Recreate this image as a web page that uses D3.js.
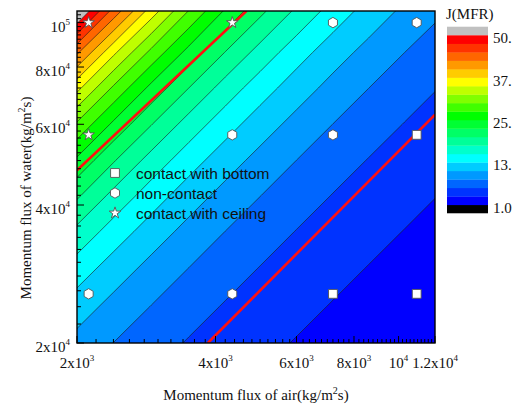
<!DOCTYPE html>
<html><head><meta charset="utf-8">
<script src="https://cdn.jsdelivr.net/npm/d3@7"></script>
<style>body{margin:0;background:#fff}</style>
</head><body>
<svg id="c" width="522" height="407"></svg>
<script>
// ---- data ----
const xNodes = [2000, 2400, 2900, 3500, 4200, 5000, 6000, 7200, 8600, 10300, 12000];
const yNodes = [20000, 24000, 29000, 35000, 42000, 50000, 60000, 72000, 86000, 106000];
// J(MFR) field on the node grid, rows = yNodes (bottom to top), columns = xNodes
const jGrid = [
  [10.0, 8.33, 6.90, 5.71, 4.76, 4.00, 3.33, 2.78, 2.33, 1.94, 1.67],
  [12.0, 10.0, 8.28, 6.86, 5.71, 4.80, 4.00, 3.33, 2.79, 2.33, 2.00],
  [14.5, 12.1, 10.0, 8.29, 6.90, 5.80, 4.83, 4.03, 3.37, 2.82, 2.42],
  [17.5, 14.6, 12.1, 10.0, 8.33, 7.00, 5.83, 4.86, 4.07, 3.40, 2.92],
  [21.0, 17.5, 14.5, 12.0, 10.0, 8.40, 7.00, 5.83, 4.88, 4.08, 3.50],
  [25.0, 20.8, 17.2, 14.3, 11.9, 10.0, 8.33, 6.94, 5.81, 4.85, 4.17],
  [30.0, 25.0, 20.7, 17.1, 14.3, 12.0, 10.0, 8.33, 6.98, 5.83, 5.00],
  [36.0, 30.0, 24.8, 20.6, 17.1, 14.4, 12.0, 10.0, 8.37, 6.99, 6.00],
  [43.0, 35.8, 29.7, 24.6, 20.5, 17.2, 14.3, 11.9, 10.0, 8.35, 7.17],
  [53.0, 44.2, 36.6, 30.3, 25.2, 21.2, 17.7, 14.7, 12.3, 10.3, 8.83]
];
const levels = [1.0, 3.45, 5.9, 8.35, 10.8, 13.25, 15.7, 18.15, 20.6, 23.05, 25.5,
                27.95, 30.4, 32.85, 35.3, 37.75, 40.2, 42.65, 45.1, 47.55, 50.0];
const bandColors = ["#0000ff", "#0033ff", "#0066ff", "#0099ff", "#00ccff",
                    "#00ffff", "#00ffcc", "#00ff99", "#00ff66", "#00ff33",
                    "#00ff00", "#40ff00", "#80ff00", "#bfff00", "#ffff00",
                    "#ffcc00", "#ff9900", "#ff6600", "#ff3300", "#ff0000"];
const belowColor = "#000000";
const aboveColor = "#c0c0c0";
const colorbarTicks = [50, 37.75, 25.5, 13.25, 1.0];
const colorbarTickLabels = ["50.", "37.", "25.", "13.", "1.0"];

const pointX = [2120, 4350, 7200, 10950];
const pointY = [25600, 56900, 100000];
const pointType = [            // rows follow pointY
  ["hex", "hex", "square", "square"],
  ["star", "hex", "hex", "square"],
  ["star", "star", "hex", "hex"]
];
const legendTypes = ["square", "hex", "star"];
const legendLabels = ["contact with bottom", "non-contact", "contact with ceiling"];

const upperBoundary = [[2000, 47600], [4670, 106000]];
const lowerBoundary = [[3850, 20000], [12000, 63000]];

const xMajor = [2000, 4000, 6000, 8000, 10000, 12000];
const xMajorLabels = [["2x10", "3"], ["4x10", "3"], ["6x10", "3"], ["8x10", "3"], ["10", "4"], ["1.2x10", "4"]];
const yMajor = [20000, 40000, 60000, 80000, 100000];
const yMajorLabels = [["2x10", "4"], ["4x10", "4"], ["6x10", "4"], ["8x10", "4"], ["10", "5"]];
const xMinorStep = 200, yMinorStep = 2000;

// ---- layout ----
const L = 77, R = 435, T = 11, B = 343;
const svg = d3.select("#c");
const x = d3.scaleLog().domain([2000, 12000]).range([L, R]);
const y = d3.scaleLog().domain([20000, 106000]).range([B, T]);
const serif = "'Liberation Serif','Times New Roman',serif";
const sans = "'Liberation Sans',Arial,sans-serif";

svg.append("defs").append("clipPath").attr("id", "clip")
  .append("rect").attr("x", L).attr("y", T).attr("width", R - L).attr("height", B - T);

const nx = xNodes.length, ny = yNodes.length;
const values = [];
jGrid.forEach(r => r.forEach(v => values.push(v)));
function idxToPx(f, nodes, sc) {
  const n = nodes.length;
  let i = Math.floor(f);
  if (i < 0) i = 0;
  if (i > n - 2) i = n - 2;
  const a = sc(nodes[i]), b = sc(nodes[i + 1]);
  return a + (b - a) * (f - i);
}
const proj = d3.geoTransform({
  point: function (gx, gy) {
    this.stream.point(idxToPx(gx - 0.5, xNodes, x), idxToPx(gy - 0.5, yNodes, y));
  }
});
const path = d3.geoPath(proj);
const contours = d3.contours().size([nx, ny]).thresholds(levels)(values);

const plot = svg.append("g").attr("clip-path", "url(#clip)");
plot.append("rect").attr("x", L).attr("y", T).attr("width", R - L).attr("height", B - T).attr("fill", belowColor);
plot.selectAll("path.fill").data(contours).join("path")
  .attr("class", "fill")
  .attr("d", path)
  .attr("fill", (d, i) => i < bandColors.length ? bandColors[i] : aboveColor);
plot.selectAll("path.line").data(contours).join("path")
  .attr("class", "line")
  .attr("d", path)
  .attr("fill", "none").attr("stroke", "#1a1a1a").attr("stroke-width", 0.6);

const line = d3.line().x(d => x(d[0])).y(d => y(d[1]));
[upperBoundary, lowerBoundary].forEach(seg => {
  plot.append("path").attr("d", line(seg)).attr("fill", "none")
    .attr("stroke", "#ff1010").attr("stroke-width", 2.6);
});

// markers
function markerPath(type) {
  if (type === "square") return d3.symbol().type(d3.symbolSquare).size(78)();
  if (type === "star") return d3.symbol().type(d3.symbolStar).size(42)();
  const r = 5.2, pts = [];
  for (let k = 0; k < 6; k++) {
    const a = Math.PI / 2 + k * Math.PI / 3;
    pts.push([r * Math.cos(a), r * Math.sin(a)]);
  }
  return "M" + pts.map(p => p.join(",")).join("L") + "Z";
}
const pts = [];
pointY.forEach((yv, j) => pointX.forEach((xv, i) => pts.push({ x: xv, y: yv, t: pointType[j][i] })));
svg.append("g").selectAll("path").data(pts).join("path")
  .attr("d", d => markerPath(d.t))
  .attr("transform", d => `translate(${x(d.x)},${y(d.y)})`)
  .attr("fill", "#fff").attr("stroke", "#555").attr("stroke-width", 0.9);

// legend
const lg = svg.append("g");
legendTypes.forEach((t, i) => {
  const cy = 173 + i * 20;
  lg.append("path").attr("d", markerPath(t)).attr("transform", `translate(115,${cy})`)
    .attr("fill", "#fff").attr("stroke", "#555").attr("stroke-width", 0.9);
  lg.append("text").attr("x", 136).attr("y", cy + 5.5).attr("font-family", sans)
    .attr("font-size", 15.5).attr("fill", "#111").text(legendLabels[i]);
});

// frame
svg.append("rect").attr("x", L).attr("y", T).attr("width", R - L).attr("height", B - T)
  .attr("fill", "none").attr("stroke", "#000").attr("stroke-width", 1.4);

// ticks
const ax = svg.append("g").attr("stroke", "#000").attr("stroke-width", 1);
d3.range(2000, 12000 + 1, xMinorStep).forEach(v => {
  const major = xMajor.includes(v);
  ax.append("line").attr("x1", x(v)).attr("x2", x(v)).attr("y1", B).attr("y2", B - (major ? 7 : 4));
});
d3.range(20000, 106000, yMinorStep).forEach(v => {
  const major = yMajor.includes(v);
  ax.append("line").attr("y1", y(v)).attr("y2", y(v)).attr("x1", L).attr("x2", L + (major ? 7 : 4));
});

function supText(sel, parts) {
  sel.append("tspan").text(parts[0]);
  sel.append("tspan").attr("dy", -7).attr("font-size", 9).text(parts[1]);
}
xMajor.forEach((v, i) => {
  const t = svg.append("text").attr("x", x(v)).attr("y", 368).attr("text-anchor", "middle")
    .attr("font-family", serif).attr("font-size", 15).attr("fill", "#111");
  supText(t, xMajorLabels[i]);
});
yMajor.forEach((v, i) => {
  const t = svg.append("text").attr("x", 70).attr("y", y(v) + 9).attr("text-anchor", "end")
    .attr("font-family", serif).attr("font-size", 15).attr("fill", "#111");
  supText(t, yMajorLabels[i]);
});

// axis titles
const xt = svg.append("text").attr("x", 256).attr("y", 400).attr("text-anchor", "middle")
  .attr("font-family", serif).attr("font-size", 15).attr("fill", "#111");
xt.append("tspan").text("Momentum flux of air(kg/m");
xt.append("tspan").attr("dy", -6).attr("font-size", 10).text("2");
xt.append("tspan").attr("dy", 6).text("s)");
const yt = svg.append("text").attr("transform", "translate(31,198) rotate(-90)").attr("text-anchor", "middle")
  .attr("font-family", serif).attr("font-size", 15).attr("fill", "#111");
yt.append("tspan").text("Momentum flux of water(kg/m");
yt.append("tspan").attr("dy", -6).attr("font-size", 10).text("2");
yt.append("tspan").attr("dy", 6).text("s)");

// colorbar
const cbX = 447, cbW = 41;
const cb = d3.scaleLinear().domain([1, 50]).range([204.8, 35.2]);
const bh = cb(1) - cb(3.45);
svg.append("rect").attr("x", cbX).attr("y", cb(1)).attr("width", cbW).attr("height", bh).attr("fill", belowColor);
bandColors.forEach((c, k) => {
  svg.append("rect").attr("x", cbX).attr("y", cb(levels[k + 1])).attr("width", cbW)
    .attr("height", cb(levels[k]) - cb(levels[k + 1]) + 0.3).attr("fill", c);
});
svg.append("rect").attr("x", cbX).attr("y", cb(50) - bh).attr("width", cbW).attr("height", bh).attr("fill", aboveColor);
colorbarTicks.forEach((v, i) => {
  svg.append("text").attr("x", 493).attr("y", cb(v) + 8).attr("font-family", serif)
    .attr("font-size", 15).attr("fill", "#111").text(colorbarTickLabels[i]);
});
svg.append("text").attr("x", 446).attr("y", 19).attr("font-family", serif)
  .attr("font-size", 15).attr("fill", "#111").text("J(MFR)");
</script>
</body></html>
